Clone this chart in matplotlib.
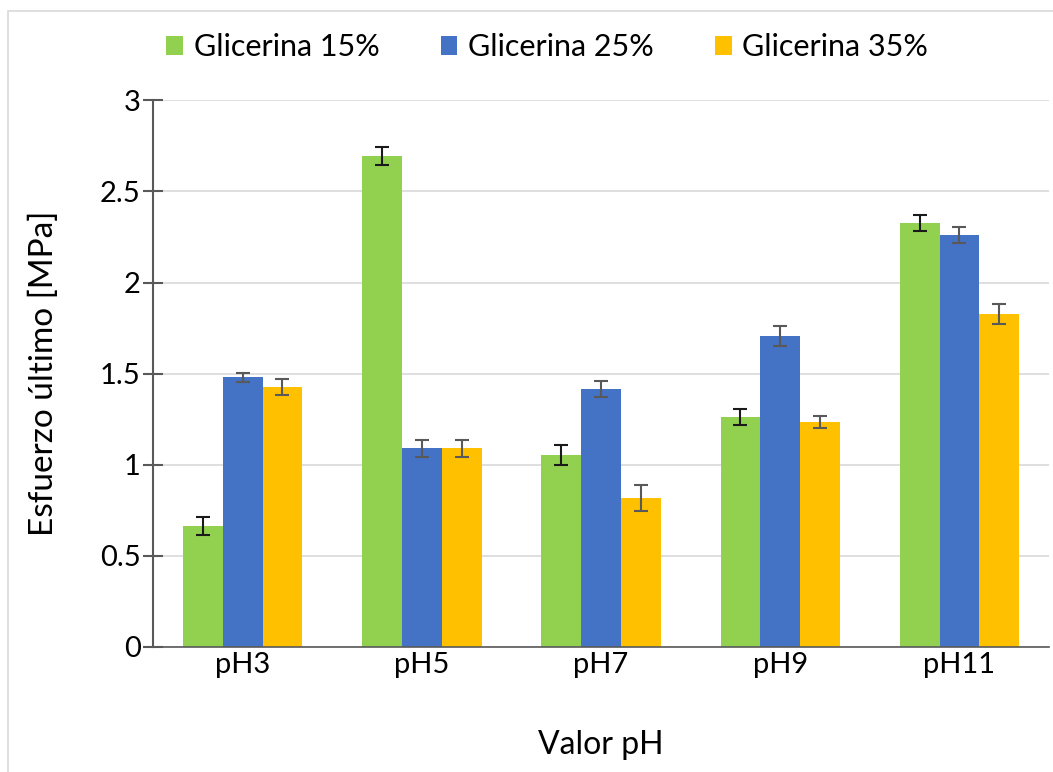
import matplotlib
matplotlib.use("Agg")
import matplotlib.pyplot as plt
import numpy as np
from matplotlib.patches import Rectangle

plt.rcParams['font.family'] = ['Lato', 'DejaVu Sans']

categories = ["pH3", "pH5", "pH7", "pH9", "pH11"]
series_names = ["Glicerina 15%", "Glicerina 25%", "Glicerina 35%"]
glic15 = [0.665, 2.693, 1.053, 1.262, 2.326]
glic25 = [1.480, 1.090, 1.415, 1.706, 2.260]
glic35 = [1.426, 1.090, 0.817, 1.234, 1.827]
err15 = [0.050, 0.050, 0.055, 0.045, 0.045]
err25 = [0.025, 0.045, 0.045, 0.055, 0.045]
err35 = [0.045, 0.045, 0.070, 0.035, 0.055]

colors = ["#92D050", "#4472C4", "#FFC000"]
err_colors = ["#1a1a1a", "#595959", "#595959"]

fig = plt.figure(figsize=(10.53, 7.72), dpi=100)
ax = fig.add_axes([0.1453, 0.162, 0.851, 0.708])

# chart border (cropped screenshot of an Excel chart)
fig.patches.append(Rectangle((0.0075, -0.05), 1.2, 1.036, transform=fig.transFigure,
                             fill=False, edgecolor="#d9d9d9", linewidth=1.2))

x = np.arange(len(categories))
width = 0.222
for i, (vals, errs) in enumerate(zip([glic15, glic25, glic35], [err15, err25, err35])):
    ax.bar(x + (i - 1) * width, vals, width, color=colors[i], label=series_names[i], zorder=2)
    ax.errorbar(x + (i - 1) * width, vals, yerr=errs, fmt="none", ecolor=err_colors[i],
                elinewidth=1.5, capsize=5, capthick=1.5, zorder=3)

ax.set_xlim(-0.5, len(categories) - 0.5)
ax.set_ylim(0, 3)
ax.set_yticks([0, 0.5, 1, 1.5, 2, 2.5, 3])
ax.set_yticklabels(["0", "0.5", "1", "1.5", "2", "2.5", "3"])
ax.set_xticks(x)
ax.set_xticklabels(categories)
ax.grid(axis="y", color="#d9d9d9", linewidth=1.2, zorder=0)
ax.set_axisbelow(True)

for s in ["top", "right"]:
    ax.spines[s].set_visible(False)
ax.spines["left"].set_color("#595959")
ax.spines["bottom"].set_color("#595959")
ax.spines["left"].set_linewidth(1.5)
ax.spines["bottom"].set_linewidth(1.2)
ax.tick_params(axis="y", direction="inout", length=14, width=1.5, color="#595959",
               labelsize=21, pad=2)
ax.tick_params(axis="x", length=0, labelsize=21, pad=4)

ax.set_ylabel("Esfuerzo último [MPa]", fontsize=24, labelpad=29)
ax.set_xlabel("Valor pH", fontsize=23, labelpad=37)

ax.legend(loc="lower center", bbox_to_anchor=(0.44, 1.021), ncol=3, frameon=False,
          fontsize=22, handlelength=0.55, handleheight=0.6, handletextpad=0.35,
          columnspacing=2.0)

fig.savefig("out.png", dpi=100)
